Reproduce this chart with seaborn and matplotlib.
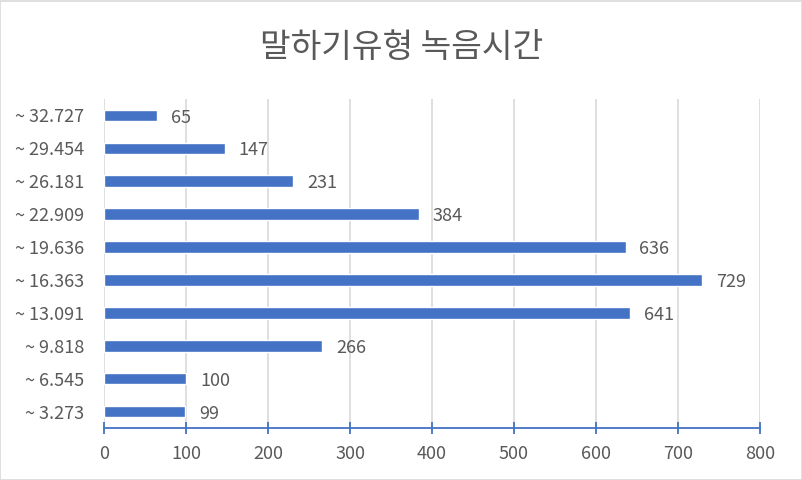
import matplotlib
matplotlib.use("Agg")
import matplotlib.pyplot as plt
import seaborn as sns
import pandas as pd
from matplotlib.patches import Rectangle

categories = ["~ 32.727", "~ 29.454", "~ 26.181", "~ 22.909", "~ 19.636",
              "~ 16.363", "~ 13.091", "~ 9.818", "~ 6.545", "~ 3.273"]
counts = [65, 147, 231, 384, 636, 729, 641, 266, 100, 99]
title = "말하기유형 녹음시간"
xticks = [0, 100, 200, 300, 400, 500, 600, 700, 800]

sns.set_theme(style="white")
plt.rcParams['font.family'] = ['Noto Sans CJK KR', 'DejaVu Sans']

TEXT = "#595959"
BLUE = "#4472C4"
GRID = "#D9D9D9"

df = pd.DataFrame({"category": categories, "count": counts})

fig = plt.figure(figsize=(8.03, 4.80), dpi=100)
ax = fig.add_axes([0.1295, 0.1083, 0.9465 - 0.1295, 0.79375 - 0.1083])

sns.barplot(data=df, x="count", y="category", orient="h", color=BLUE,
            saturation=1, width=0.35, ax=ax, order=categories)

ax.set_xlim(0, 800)
ax.set_ylim(len(categories) - 0.5, -0.5)
ax.set_xticks(xticks)
ax.set_xticklabels([str(t) for t in xticks])
ax.xaxis.grid(True, color=GRID, linewidth=1.2)
ax.set_axisbelow(True)
for s in ["top", "right", "left"]:
    ax.spines[s].set_visible(False)
ax.spines["bottom"].set_color(BLUE)
ax.spines["bottom"].set_linewidth(1.3)
ax.tick_params(axis="x", which="both", direction="inout", length=9, width=1.3,
               color=BLUE, labelsize=13, labelcolor=TEXT, pad=8, bottom=True)
ax.tick_params(axis="y", length=0, labelsize=13, labelcolor=TEXT, pad=14)
ax.set_xlabel("")
ax.set_ylabel("")

for p, v in zip(ax.patches, counts):
    ax.annotate(str(v), (p.get_width(), p.get_y() + p.get_height() / 2),
                xytext=(10, -1.5), textcoords="offset points",
                ha="left", va="center", fontsize=13, color=TEXT)

fig.text(0.5, 0.9, title, ha="center", va="center", fontsize=24, color=TEXT)

fig.patches.append(Rectangle((0.0006, 0.001), 0.9985, 0.997, transform=fig.transFigure,
                             fill=False, edgecolor=GRID, linewidth=1.2))

fig.savefig("out.png", dpi=100)
